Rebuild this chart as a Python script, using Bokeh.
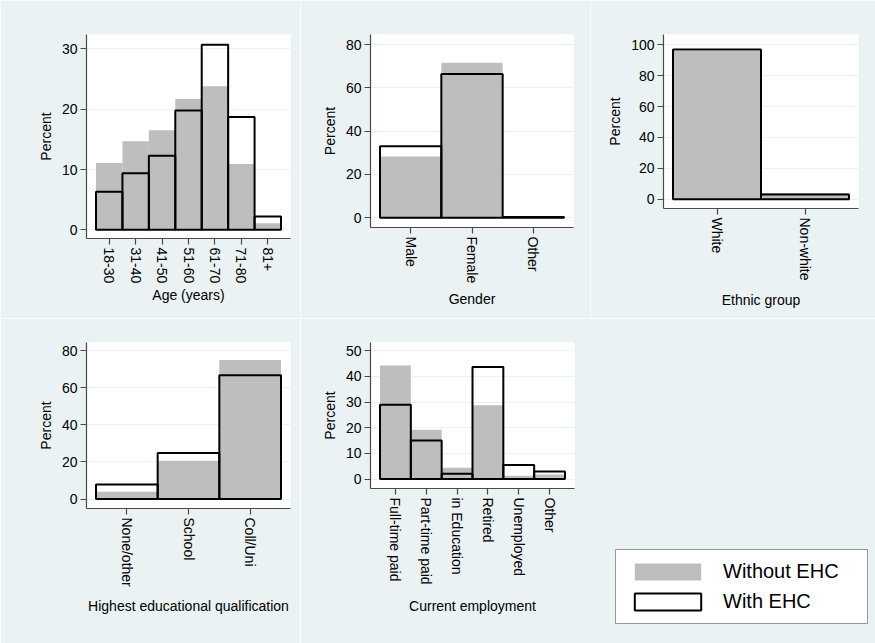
import numpy as np
from bokeh.plotting import figure
from bokeh.models import Range1d, FixedTicker, Legend, LegendItem
from bokeh.layouts import row, column
from bokeh.embed import file_html
from bokeh.resources import INLINE

# ---------------- data ----------------
age_cats = ["18-30", "31-40", "41-50", "51-60", "61-70", "71-80", "81+"]
age_without = [11.1, 14.7, 16.5, 21.7, 23.8, 10.9, 1.1]
age_with = [6.3, 9.4, 12.3, 19.8, 30.7, 18.7, 2.2]
age_yticks = [0, 10, 20, 30]

gender_cats = ["Male", "Female", "Other"]
gender_without = [28.3, 71.6, 0.2]
gender_with = [33.0, 66.4, 0.4]
gender_yticks = [0, 20, 40, 60, 80]

ethnic_cats = ["White", "Non-white"]
ethnic_without = [96.0, 4.0]
ethnic_with = [97.0, 3.0]
ethnic_yticks = [0, 20, 40, 60, 80, 100]

edu_cats = ["None/other", "School", "Coll/Uni"]
edu_without = [4.0, 20.7, 75.0]
edu_with = [7.8, 24.8, 66.8]
edu_yticks = [0, 20, 40, 60, 80]

emp_cats = ["Full-time paid", "Part-time paid", "in Education", "Retired", "Unemployed", "Other"]
emp_without = [44.2, 19.2, 4.4, 28.8, 1.3, 1.8]
emp_with = [29.0, 15.0, 2.1, 43.7, 5.5, 3.0]
emp_yticks = [0, 10, 20, 30, 40, 50]

series_labels = ["Without EHC", "With EHC"]

# ---------------- style ----------------
BG = "#eaf2f3"
GREY = "#bebebe"
FONT = "Liberation Sans"
FS = "14px"
AXC = "#4a4a4a"


def panel(cats, without, withv, yticks, yrange, xlabel, fw, fh, borders, xstand):
    n = len(cats)
    pad = 9.5 * n / (fw - 19.0)
    bl, br, bt, bb = borders
    p = figure(frame_width=fw, frame_height=fh,
               x_range=Range1d(-0.5 - pad, n - 0.5 + pad),
               y_range=Range1d(*yrange),
               output_backend="svg", toolbar_location=None,
               min_border_left=bl, min_border_right=br,
               min_border_top=bt, min_border_bottom=bb,
               background_fill_color="white", border_fill_color=BG,
               outline_line_color=None)
    xs = np.arange(n)
    r_without = p.vbar(x=xs, top=without, bottom=0, width=1, fill_color=GREY, line_color=None)
    r_with = p.vbar(x=xs, top=withv, bottom=0, width=1, fill_color=None,
                    line_color="black", line_width=2)

    p.xaxis.ticker = FixedTicker(ticks=list(range(n)))
    p.xaxis.major_label_overrides = {i: c for i, c in enumerate(cats)}
    p.xaxis.major_label_orientation = "vertical"
    p.xaxis.axis_label = xlabel
    p.xaxis.axis_label_standoff = xstand
    p.yaxis.ticker = FixedTicker(ticks=yticks)
    p.yaxis.axis_label = "Percent"
    p.yaxis.axis_label_standoff = 5

    for ax in (p.xaxis, p.yaxis):
        ax.axis_line_color = AXC
        ax.axis_line_width = 1.2
        ax.major_tick_line_color = AXC
        ax.major_tick_line_width = 1.2
        ax.major_tick_in = 0
        ax.major_tick_out = 6
        ax.minor_tick_line_color = None
        ax.major_label_standoff = 3
        ax.major_label_text_font = FONT
        ax.major_label_text_font_size = FS
        ax.major_label_text_color = "black"
        ax.axis_label_text_font = FONT
        ax.axis_label_text_font_size = FS
        ax.axis_label_text_font_style = "normal"
        ax.axis_label_text_color = "black"
    p.xgrid.visible = False
    p.ygrid.grid_line_color = BG
    p.ygrid.grid_line_width = 1
    return p, r_without, r_with


p1, _, _ = panel(age_cats, age_without, age_with, age_yticks, (-1.44, 32.4), "Age (years)",
                 204, 204, (86, 10, 34, 80), 1)
p2, _, _ = panel(gender_cats, gender_without, gender_with, gender_yticks, (-4.5, 84.7), "Gender",
                 203, 193, (70, 17, 34, 91), 5)
p3, _, _ = panel(ethnic_cats, ethnic_without, ethnic_with, ethnic_yticks, (-6.0, 106.7), "Ethnic group",
                 195, 174, (73, 17, 34, 110), 8)
p4, _, _ = panel(edu_cats, edu_without, edu_with, edu_yticks, (-5.1, 84.5),
                 "Highest educational qualification", 204, 166, (86, 10, 24, 135), 8)
# the employment panel also hosts the shared legend, in its right-hand side panel
p5, rw, rv = panel(emp_cats, emp_without, emp_with, emp_yticks, (-3.66, 53.2), "Current employment",
                   204, 146, (70, 301, 24, 155), 10)

leg = Legend(items=[LegendItem(label=series_labels[0], renderers=[rw]),
                    LegendItem(label=series_labels[1], renderers=[rv])],
             location=(41, -136), glyph_width=83, glyph_height=21,
             label_standoff=14, padding=10, spacing=7, margin=0,
             label_width=134,
             label_text_font=FONT, label_text_font_size="20px",
             label_text_color="black",
             border_line_color="#333333", border_line_width=1,
             background_fill_color="white", background_fill_alpha=1)
p5.add_layout(leg, "right")

layout = column(row(p1, p2, p3), row(p4, p5))

html = file_html(layout, INLINE)
html = html.replace("<body>", '<body style="background-color:%s;">' % BG, 1)
open("out.html", "w").write(html)
